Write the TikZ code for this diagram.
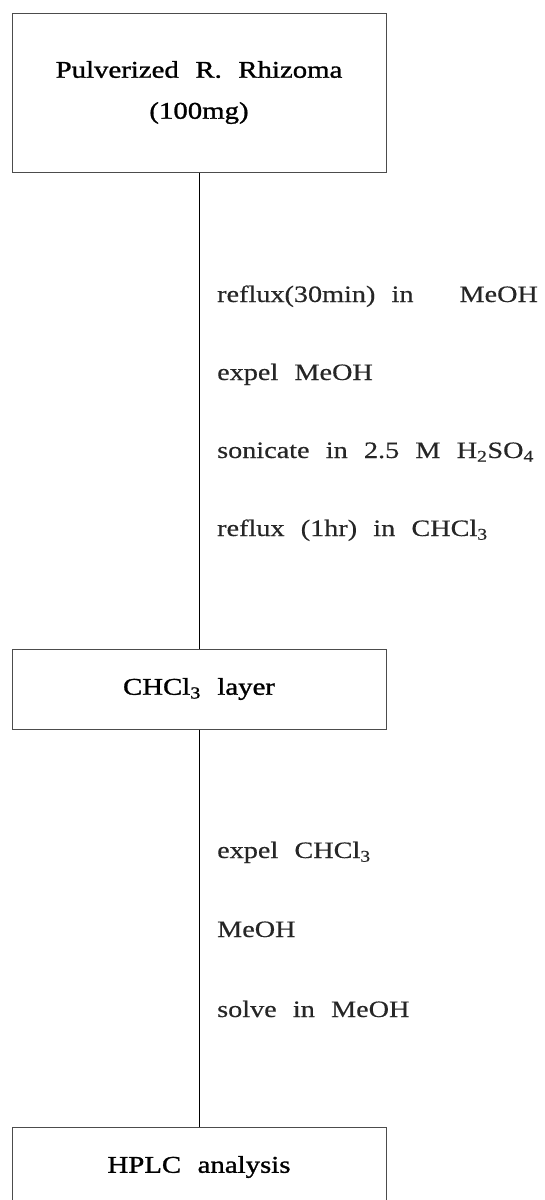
\documentclass[tikz,border=0pt]{standalone}
\usepackage{fontspec}
\setmainfont{Liberation Serif}[FakeStretch=1.2,WordSpace=2.3,FakeBold=0.4]
\newfontfamily\boxfam{Liberation Serif}[FakeStretch=1.2,WordSpace=2.3,FakeBold=1.2]
\begin{document}
\begin{tikzpicture}[x=1pt,y=-1pt,
  boxfont/.style={font=\boxfam\fontsize{24}{41}\selectfont},
  stepfont/.style={font=\fontsize{23.5}{26}\selectfont},
  procbox/.style={draw=black!70,line width=1pt,rectangle,minimum width=374pt,inner sep=0pt,align=center,boxfont,text=black},
  steptext/.style={anchor=base west,inner sep=0pt,stepfont,text=black!85},
  link/.style={draw=black,line width=0.9pt}]
\useasboundingbox (0,0) rectangle (544,1200);
\clip (0,0) rectangle (544,1200);
\node[procbox,minimum height=159pt] (raw) at (199,92.5) {Pulverized R. Rhizoma\\(100mg)};
\node[procbox,minimum height=80pt] (layer) at (199,689) {CHCl\textsubscript{3} layer};
\node[procbox,minimum height=80pt] (hplc) at (199,1167) {HPLC analysis};
\draw[link] (raw.south) -- (layer.north);
\draw[link] (layer.south) -- (hplc.north);
\node[steptext] (s1) at (217,302) {reflux(30min) in\hspace{46pt}MeOH};
\node[steptext] (s2) at (217,380) {expel MeOH};
\node[steptext] (s3) at (217,458) {sonicate in 2.5 M H\textsubscript{2}SO\textsubscript{4}};
\node[steptext] (s4) at (217,536) {reflux (1hr) in CHCl\textsubscript{3}};
\node[steptext] (t1) at (217,858) {expel CHCl\textsubscript{3}};
\node[steptext] (t2) at (217,937) {MeOH};
\node[steptext] (t3) at (217,1017) {solve in MeOH};
\end{tikzpicture}
\end{document}
